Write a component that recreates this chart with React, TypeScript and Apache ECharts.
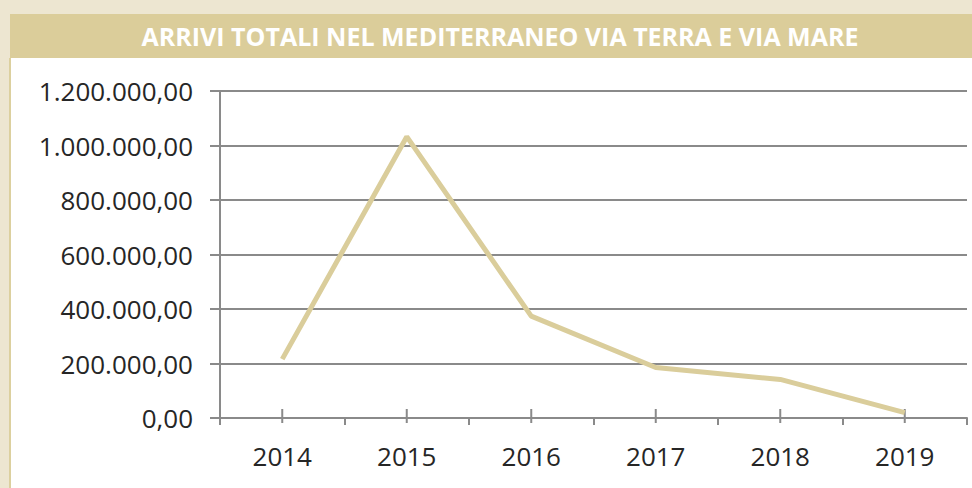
import React, { useEffect, useRef } from "react";
import * as echarts from "echarts";

const TITLE = "ARRIVI TOTALI NEL MEDITERRANEO VIA TERRA E VIA MARE";
const YEARS = ["2014", "2015", "2016", "2017", "2018", "2019"];
const ARRIVALS = [216054, 1032408, 373652, 185139, 141472, 20000];
const Y_MIN = 0;
const Y_MAX = 1200000;
const Y_STEP = 200000;

const fmtIt = (v: number) => {
  const s = Math.round(v).toString().replace(/\B(?=(\d{3})+(?!\d))/g, ".");
  return s + ",00";
};

export default function App() {
  const ref = useRef<HTMLDivElement>(null);
  useEffect(() => {
    if (!ref.current) return;
    const chart = echarts.init(ref.current, null, { renderer: "svg" });
    const labelFont = "'Open Sans', sans-serif";
    const gray = "#8a8a8a";
    chart.setOption({
      animation: false,
      backgroundColor: "#ffffff",
      graphic: [
        { type: "rect", shape: { x: 0, y: 0, width: 972, height: 14 }, style: { fill: "#ede6d1" }, silent: true },
        { type: "rect", shape: { x: 0, y: 14, width: 10, height: 474 }, style: { fill: "#ede6d1" }, silent: true },
        { type: "rect", shape: { x: 10, y: 14, width: 962, height: 44 }, style: { fill: "#dbcd9a" }, silent: true },
        { type: "rect", shape: { x: 9, y: 58, width: 2, height: 430 }, style: { fill: "#dcd09f" }, silent: true },
        {
          type: "text",
          x: 500,
          y: 36,
          style: {
            text: TITLE,
            fill: "#ffffff",
            font: "bold 25px 'Open Sans', sans-serif",
            textAlign: "center",
            textVerticalAlign: "middle",
          },
          z: 10,
        },
      ],
      grid: { left: 220, right: 5, top: 91, bottom: 70 },
      xAxis: {
        type: "category",
        data: YEARS,
        boundaryGap: true,
        z: 4,
        axisLine: { show: true, lineStyle: { color: gray, width: 2 } },
        axisTick: { show: true, alignWithLabel: false, length: 7, lineStyle: { color: gray, width: 2 } },
        axisLabel: { color: "#262626", fontSize: 26, fontFamily: labelFont, margin: 25 },
        splitLine: { show: false },
      },
      yAxis: {
        type: "value",
        min: Y_MIN,
        max: Y_MAX,
        interval: Y_STEP,
        z: 4,
        axisLine: { show: true, lineStyle: { color: gray, width: 2 } },
        axisTick: { show: true, length: 10, lineStyle: { color: gray, width: 2 } },
        axisLabel: { color: "#262626", fontSize: 26, fontFamily: labelFont, margin: 27, formatter: (v: number) => fmtIt(v) },
        splitLine: { show: true, lineStyle: { color: gray, width: 2, type: "solid" } },
      },
      series: [
        {
          type: "custom",
          clip: false,
          silent: true,
          z: 4,
          data: YEARS.map((_, i) => [i, Y_MIN]),
          renderItem: (params: any, api: any) => {
            const p = api.coord([api.value(0), api.value(1)]);
            return {
              type: "line",
              shape: { x1: p[0], y1: p[1] - 9, x2: p[0], y2: p[1] + 5 },
              style: { stroke: gray, lineWidth: 2 },
            };
          },
        },
        {
          type: "line",
          data: ARRIVALS,
          showSymbol: false,
          symbol: "none",
          lineStyle: { color: "#dacd9b", width: 5 },
          itemStyle: { color: "#dacd9b" },
          z: 5,
        },
      ],
    });
    return () => chart.dispose();
  }, []);
  return (
    <div
      ref={ref}
      style={{ position: "absolute", left: 0, top: 0, width: 972, height: 488 }}
    />
  );
}
